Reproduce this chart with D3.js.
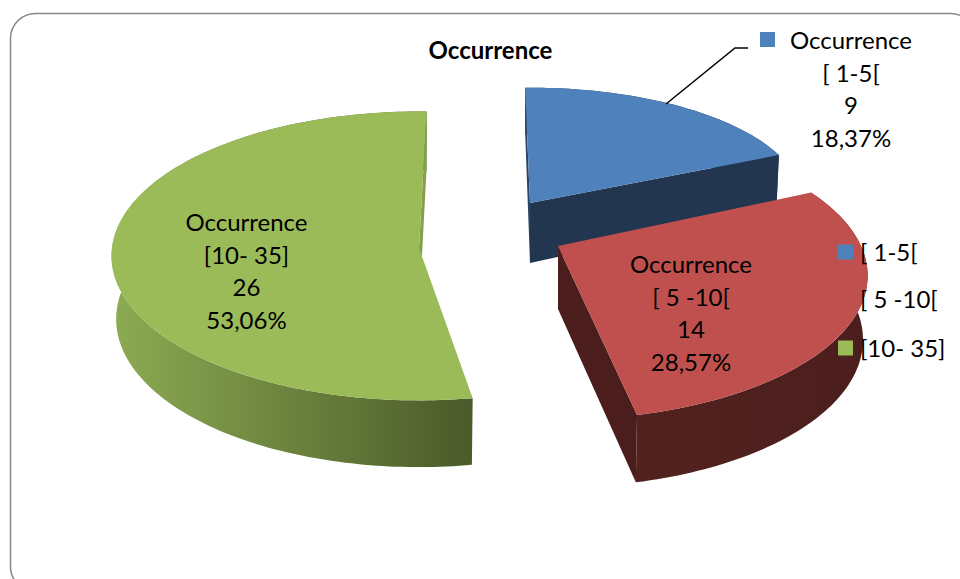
<!DOCTYPE html>
<html>
<head>
<meta charset="utf-8">
<script src="https://cdn.jsdelivr.net/npm/d3@7"></script>
<style>
  html, body { margin: 0; padding: 0; background: #fff; overflow: hidden; }
  text { font-family: Lato, "Open Sans", sans-serif; fill: #000; }
</style>
</head>
<body>
<svg id="chart" width="960" height="579"></svg>
<script>
// data
const chartTitle = "Occurrence";
const categories = ["[ 1-5[", "[ 5 -10[", "[10- 35]"];
const values = [9, 14, 26];
const colors = ["#4f81bd", "#c0504d", "#9bbb59"];
const wallColors = [
  ["#22364f", "#22364f"],
  ["#52221f", "#4b1e1d"],
  ["#8cab52", "#4a5a29"]
];

const total = d3.sum(values);
const percent = v => (v / total * 100).toFixed(2).replace(".", ",") + "%";

// each slice is exploded and foreshortened on its own:
// ax/ay = apex, R/S = radii, k = perspective, d/t = thickness, q = shrink of the lower rim
const sliceGeom = [
  { ax: 530, ay: 203, R: 272, S: 113, k: -0.02, rot: -1,  d: 60, t: 15, q: 0.99 },
  { ax: 558, ay: 246, R: 303, S: 138, k: 0.206, rot: -1,  d: 63, t: 7,  q: 0.985 },
  { ax: 419, ay: 248, R: 307, S: 144, k: 0.055, rot: 1.5, d: 63, t: 6,  q: 0.985 }
];

const labelPos = [
  { x: 851, y: 49,  kx: 760, ky: 32 },
  { x: 691, y: 273, kx: 600, ky: 256 },
  { x: 246.5, y: 231, kx: 155, ky: 214 }
];
const legendY = [252, 299, 348];
const lineGap = 32.7;

const svg = d3.select("#chart");

// frame, runs off the right and bottom of the page
svg.append("rect")
  .attr("x", 10.5).attr("y", 13.5)
  .attr("width", 965).attr("height", 578)
  .attr("rx", 25).attr("ry", 25)
  .attr("fill", "#fff")
  .attr("stroke", "#868686")
  .attr("stroke-width", 1.5);

const pie = d3.pie().sort(null).value(d => d);
const arcs = pie(values);

// projected point on the top face (lift=0) or on the bottom rim (lift=1)
function project(g, a, lift) {
  const u = Math.sin(a + g.rot * Math.PI / 180);
  const v = Math.cos(a + g.rot * Math.PI / 180);
  const w = 1 + g.k * v;
  const s = lift ? g.q : 1;
  const depth = lift ? g.d - g.t * v : 0;
  return [g.ax + g.R * s * u / w, g.ay - g.S * s * v / w + depth];
}

function sampleAngles(d) {
  const n = Math.ceil((d.endAngle - d.startAngle) / 0.02);
  return d3.range(n + 1).map(i => d.startAngle + (d.endAngle - d.startAngle) * i / n);
}

const line = d3.line();
const defs = svg.append("defs");

wallColors.forEach((c, i) => {
  const grad = defs.append("linearGradient").attr("id", "wall" + i);
  grad.append("stop").attr("offset", "0%").attr("stop-color", c[0]);
  grad.append("stop").attr("offset", "100%").attr("stop-color", c[1]);
});

const slices = svg.append("g").attr("id", "slices")
  .selectAll("g")
  .data(arcs)
  .enter()
  .append("g");

// outer wall
slices.append("path")
  .attr("d", (d, i) => {
    const g = sliceGeom[i];
    const as = sampleAngles(d);
    const pts = as.map(a => project(g, a, 0)).concat(as.slice().reverse().map(a => project(g, a, 1)));
    return line(pts) + "Z";
  })
  .attr("fill", (d, i) => `url(#wall${i})`);

// cut faces, start side and end side
slices.each(function(d, i) {
  const g = sliceGeom[i];
  const apex = [g.ax, g.ay];
  const apexLow = [g.ax, g.ay + g.d];
  const el = d3.select(this);
  const quad = a => [apex, project(g, a, 0), project(g, a, 1), apexLow];
  if (i === 0) {
    el.append("path").attr("d", line(quad(d.startAngle)) + "Z").attr("fill", "#2b4565");
    el.append("path").attr("d", line(quad(d.endAngle)) + "Z").attr("fill", "#22364f");
  }
  if (i === 1) {
    el.append("path").attr("d", line(quad(d.endAngle)) + "Z").attr("fill", "#4b1e1d");
  }
  if (i === 2) {
    el.append("path").attr("d", line(quad(d.endAngle)) + "Z").attr("fill", "#84a04a");
  }
});

// top face
slices.append("path")
  .attr("d", (d, i) => {
    const g = sliceGeom[i];
    return line([[g.ax, g.ay]].concat(sampleAngles(d).map(a => project(g, a, 0)))) + "Z";
  })
  .attr("fill", (d, i) => colors[i]);

// title
svg.append("text")
  .attr("x", 490.5).attr("y", 59)
  .attr("text-anchor", "middle")
  .style("font-size", "24px")
  .style("font-weight", 700)
  .text(chartTitle);

// leader line of the blue label
svg.append("path")
  .attr("d", line([[748, 48], [735, 48], [666, 104]]))
  .attr("fill", "none")
  .attr("stroke", "#000")
  .attr("stroke-width", 1.5);

// data labels
values.forEach((v, i) => {
  const p = labelPos[i];
  svg.append("rect")
    .attr("x", p.kx).attr("y", p.ky)
    .attr("width", 15).attr("height", 15)
    .attr("fill", colors[i]);
  [chartTitle, categories[i], v, percent(v)].forEach((t, j) => {
    svg.append("text")
      .attr("x", p.x)
      .attr("y", p.y + j * lineGap)
      .attr("text-anchor", "middle")
      .style("font-size", "24px")
      .text(t);
  });
});

// legend
categories.forEach((c, i) => {
  svg.append("rect")
    .attr("x", 838).attr("y", legendY[i] - 7.5)
    .attr("width", 15).attr("height", 15)
    .attr("fill", colors[i]);
  svg.append("text")
    .attr("x", 860).attr("y", legendY[i] + 8.5)
    .style("font-size", "24px")
    .text(c);
});
</script>
</body>
</html>
